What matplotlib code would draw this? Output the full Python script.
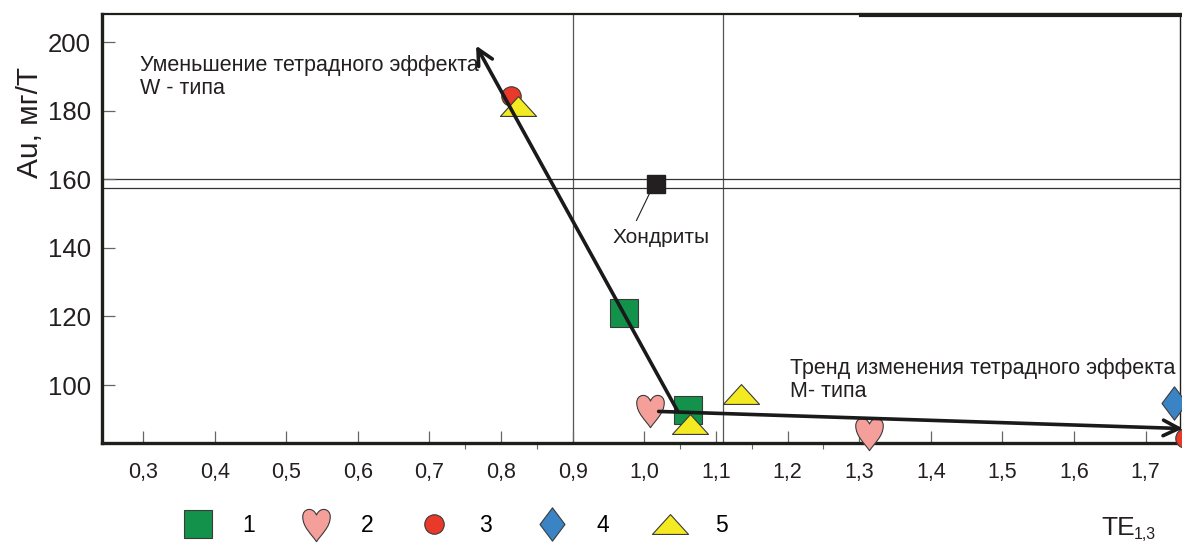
import numpy as np
import matplotlib
matplotlib.use('Agg')
import matplotlib.pyplot as plt
from matplotlib.path import Path
from matplotlib.lines import Line2D

plt.rcParams['font.family'] = ['Liberation Sans', 'DejaVu Sans']

# Данные (TE_1,3 и Au, мг/т) по группам
te_1 = [0.972, 1.061]
au_1 = [121.0, 92.7]
te_2 = [1.008, 1.314]
au_2 = [92.7, 86.0]
te_3 = [0.814, 1.755]
au_3 = [184.3, 84.5]
te_4 = [1.740]
au_4 = [94.8]
te_5 = [0.824, 1.064, 1.135]
au_5 = [181.3, 88.6, 97.4]

chondrite_te = [1.016]
chondrite_au = [158.6]

# тренды (начало -> конец стрелки)
trend_w = [(1.047, 92.2), (0.765, 199.0)]
trend_m = [(1.02, 92.3), (1.752, 87.3)]

x_ticks = [0.3, 0.4, 0.5, 0.6, 0.7, 0.8, 0.9, 1.0, 1.1, 1.2, 1.3, 1.4, 1.5, 1.6, 1.7]
x_minor = [0.75, 0.85, 1.05, 1.15, 1.25]
y_ticks = [100, 120, 140, 160, 180, 200]
v_lines = [0.9, 1.11]
h_lines = [160.1, 157.4]

# маркеры
heart = Path([(0, -1), (-0.3, -0.55), (-0.8, -0.15), (-0.8, 0.45),
              (-0.8, 0.95), (-0.2, 1.05), (0, 0.55),
              (0.2, 1.05), (0.8, 0.95), (0.8, 0.45),
              (0.8, -0.15), (0.3, -0.55), (0, -1), (0, -1)],
             [Path.MOVETO, Path.CURVE4, Path.CURVE4, Path.CURVE4,
              Path.CURVE4, Path.CURVE4, Path.CURVE4,
              Path.CURVE4, Path.CURVE4, Path.CURVE4,
              Path.CURVE4, Path.CURVE4, Path.CURVE4, Path.CLOSEPOLY])
diamond = Path([(0, -1), (0.75, 0), (0, 1), (-0.75, 0), (0, -1)],
               [Path.MOVETO, Path.LINETO, Path.LINETO, Path.LINETO, Path.CLOSEPOLY])
triangle = Path([(-1, -0.55), (1, -0.55), (0, 0.55), (-1, -0.55)],
                [Path.MOVETO, Path.LINETO, Path.LINETO, Path.CLOSEPOLY])

ec = '#3a3a3a'
styles = [
    dict(marker='s', ms=20, mfc='#12924a', mec=ec, mew=0.8),
    dict(marker=heart, ms=26, mfc='#f59f9b', mec=ec, mew=0.8),
    dict(marker='o', ms=14, mfc='#e8392a', mec=ec, mew=0.8),
    dict(marker=diamond, ms=24, mfc='#3a84c6', mec=ec, mew=0.8),
    dict(marker=triangle, ms=26, mfc='#f3ea22', mec=ec, mew=0.8),
]
groups = [(te_1, au_1), (te_2, au_2), (te_3, au_3), (te_4, au_4), (te_5, au_5)]

fig = plt.figure(figsize=(11.82, 5.45), dpi=100)
ax = fig.add_axes([0.0863, 0.1872, 0.9120, 0.7871])

ax.set_xlim(0.2427, 1.748)
ax.set_ylim(83.1, 208.2)

for x in v_lines:
    ax.axvline(x, color='#555555', lw=0.9, zorder=1)
for y in h_lines:
    ax.axhline(y, color='#333333', lw=0.9, zorder=1)

for (xs, ys), st in zip(groups, styles):
    ax.plot(xs, ys, ls='none', zorder=3, clip_on=False, **st)

ax.plot(chondrite_te, chondrite_au, 's', ms=13, color='#231f20', zorder=3)

for start, end in (trend_w, trend_m):
    ax.annotate('', xy=end, xytext=start,
                arrowprops=dict(arrowstyle='->', lw=2.6, color='#1a1a1a',
                                mutation_scale=28, shrinkA=0, shrinkB=0),
                zorder=4, annotation_clip=False)

ax.annotate('Хондриты', xy=(1.008, 156.2), xytext=(1.023, 142.9),
            ha='center', va='center', fontsize=15, color='#231f20',
            arrowprops=dict(arrowstyle='-', lw=0.8, color='#231f20',
                            shrinkA=4, shrinkB=0, relpos=(0.21, 1.0)))

ax.text(0.296, 189.8, 'Уменьшение тетрадного эффекта\nW - типа',
        fontsize=15.5, color='#231f20', va='center', ha='left', linespacing=1.1)
ax.text(1.204, 101.4, 'Тренд изменения тетрадного эффекта\nМ- типа',
        fontsize=15.5, color='#231f20', va='center', ha='left', linespacing=1.1)

ax.set_xticks(x_ticks)
ax.set_xticklabels([f'{v:.1f}'.replace('.', ',') for v in x_ticks])
ax.set_xticks(x_minor, minor=True)
ax.set_yticks(y_ticks)
ax.tick_params(axis='x', direction='in', length=9, width=0.9, pad=14,
               labelsize=15.5, colors='#666666', labelcolor='#231f20')
ax.tick_params(axis='x', which='minor', direction='out', length=4, width=0.8,
               colors='#666666')
ax.tick_params(axis='y', direction='in', length=9, width=0.9, pad=8,
               labelsize=18.5, colors='#666666', labelcolor='#231f20')

for side, lw in (('left', 2.4), ('bottom', 2.4), ('top', 1.6), ('right', 1.0)):
    ax.spines[side].set_linewidth(lw)
    ax.spines[side].set_color('#1e1e1a')
ax.plot([0.704, 1.0], [0.997, 0.997], transform=ax.transAxes, color='#1e1e1a',
        lw=3, clip_on=False, zorder=5)

fig.text(0.025, 0.775, 'Au, мг/Т', rotation=90, fontsize=21.5, ha='center',
         va='center', color='#231f20')
fig.text(0.932, 0.032, 'TE', fontsize=19, ha='left', va='center', color='#231f20')
fig.text(0.959, 0.020, '1,3', fontsize=11.5, ha='left', va='center', color='#231f20')

handles = [Line2D([], [], ls='none', **st) for st in styles]
fig.legend(handles, ['1', '2', '3', '4', '5'], ncol=5, frameon=False,
           loc='center left', bbox_to_anchor=(0.148, 0.036), fontsize=16.5,
           handlelength=2.0, handletextpad=0.95, columnspacing=1.65,
           borderpad=0, borderaxespad=0)

fig.savefig('out.png', dpi=100)
